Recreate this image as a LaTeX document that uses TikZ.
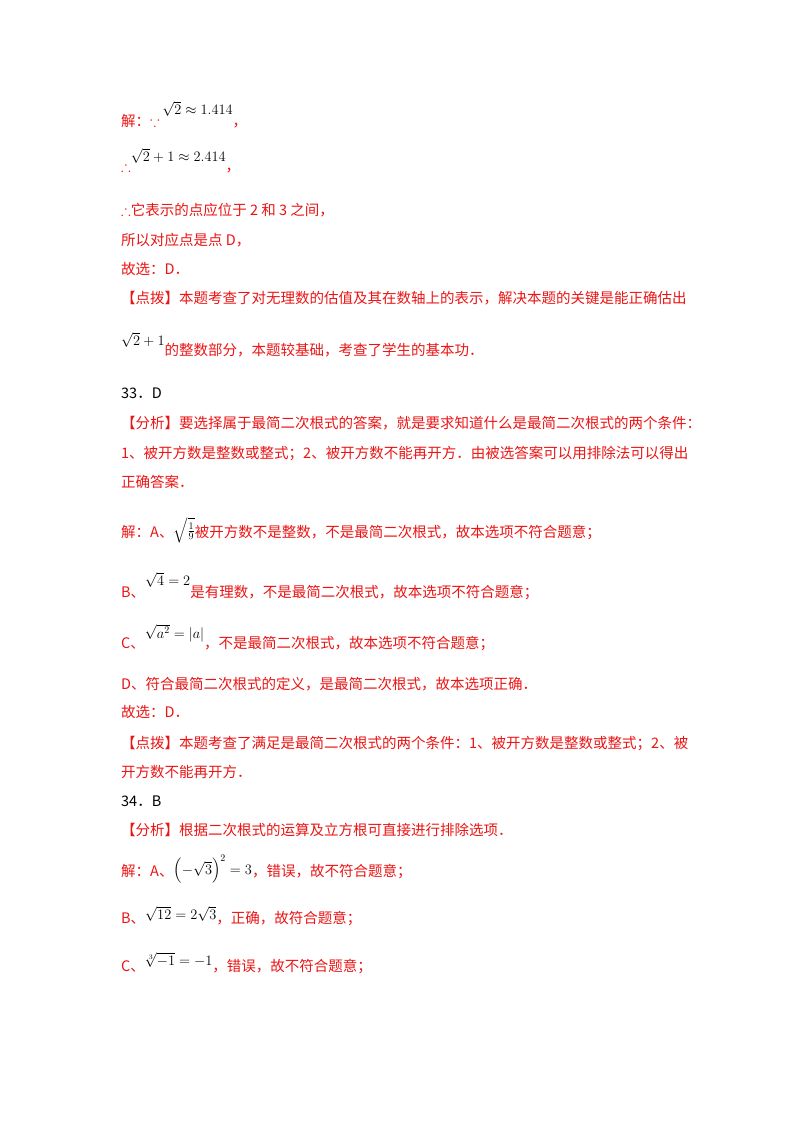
\documentclass[tikz,border=0pt]{standalone}
\usepackage{amsmath,amssymb}
\usepackage{fontspec}
\setmainfont{Liberation Serif}
\newfontfamily\cjk{Noto Sans CJK SC}
\usetikzlibrary{positioning}
\definecolor{ansred}{RGB}{235,20,20}
\tikzset{
  txt/.style={anchor=base west, inner sep=0pt, text=ansred,
    font=\cjk\fontsize{14.5}{18}\selectfont},
  num/.style={txt, text=black}
}
\newcommand{\up}[2][8pt]{\raisebox{#1}{\color{black}\fontsize{14}{17}\selectfont$#2$}}

\begin{document}
\begin{tikzpicture}[x=1pt,y=-1pt]
  \useasboundingbox (0,0) rectangle (800,1132);

  % first answer
  \node[txt] (s1) at (121,126) {解：$\because$\,\up[12pt]{\sqrt{2}\approx 1.414}，};
  \node[txt] (s2) at (121,171) {$\therefore$\up[10pt]{\sqrt{2}+1\approx 2.414}，};
  \node[txt] (s3) at (121,215) {$\therefore$它表示的点应位于 2 和 3 之间，};
  \node[txt] (s4) at (121,245) {所以对应点是点 \textit{D}，};
  \node[txt] (s5) at (121,274) {故选：D．};
  \node[txt] (s6) at (121,303) {【点拨】本题考查了对无理数的估值及其在数轴上的表示，解决本题的关键是能正确估出};
  \node[txt] (s7) at (121,355) {\up[10pt]{\sqrt{2}+1}的整数部分，本题较基础，考查了学生的基本功．};

  % question 33
  \node[num] (q33) at (121,398) {33．D};
  \node[txt] (a1) at (121,428) {【分析】要选择属于最简二次根式的答案，就是要求知道什么是最简二次根式的两个条件：};
  \node[txt] (a2) at (121,458) {1、被开方数是整数或整式；2、被开方数不能再开方．由被选答案可以用排除法可以得出};
  \node[txt] (a3) at (121,487) {正确答案．};
  \node[txt] (a4) at (121,537) {解：\textit{A}、\up[2pt]{\sqrt{\frac{1}{9}}}被开方数不是整数，不是最简二次根式，故本选项不符合题意；};
  \node[txt] (a5) at (121,597) {\textit{B}、\up[12pt]{\sqrt{4}=2}是有理数，不是最简二次根式，故本选项不符合题意；};
  \node[txt] (a6) at (121,648) {\textit{C}、\up[10pt]{\sqrt{a^2}=|a|}，不是最简二次根式，故本选项不符合题意；};
  \node[txt] (a7) at (121,689) {\textit{D}、符合最简二次根式的定义，是最简二次根式，故本选项正确．};
  \node[txt] (a8) at (121,717) {故选：\textit{D}．};
  \node[txt] (a9) at (121,748) {【点拨】本题考查了满足是最简二次根式的两个条件：1、被开方数是整数或整式；2、被};
  \node[txt] (a10) at (121,777) {开方数不能再开方．};

  % question 34
  \node[num] (q34) at (121,806) {34．B};
  \node[txt] (b1) at (121,835) {【分析】根据二次根式的运算及立方根可直接进行排除选项．};
  \node[txt] (b2) at (121,876) {解：A、\up[2pt]{\left(-\sqrt{3}\right)^2=3}，错误，故不符合题意；};
  \node[txt] (b3) at (121,923) {B、\up[4pt]{\sqrt{12}=2\sqrt{3}}，正确，故符合题意；};
  \node[txt] (b4) at (121,971) {C、\up[6pt]{\sqrt[3]{-1}=-1}，错误，故不符合题意；};
\end{tikzpicture}
\end{document}
